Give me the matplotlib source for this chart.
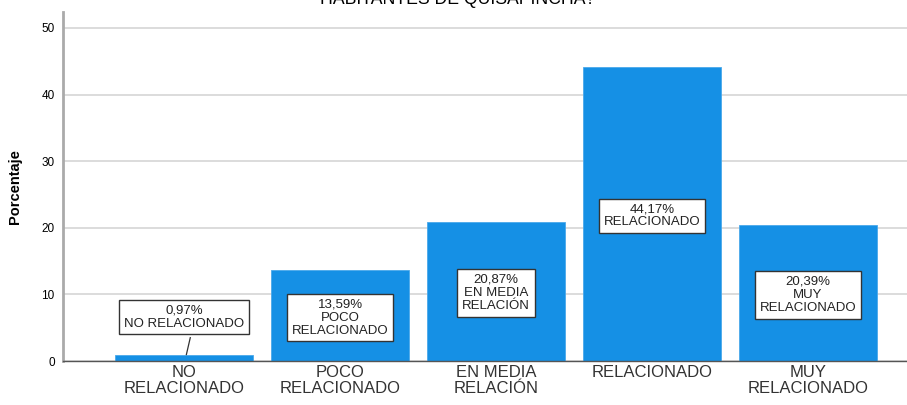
import matplotlib.pyplot as plt

plt.rcParams['font.family'] = ['Liberation Sans', 'DejaVu Sans']

categorias = ['NO\nRELACIONADO', 'POCO\nRELACIONADO', 'EN MEDIA\nRELACIÓN', 'RELACIONADO', 'MUY\nRELACIONADO']
porcentajes = [0.97, 13.59, 20.87, 44.17, 20.39]
etiquetas = ['0,97%\nNO RELACIONADO', '13,59%\nPOCO\nRELACIONADO', '20,87%\nEN MEDIA\nRELACIÓN',
             '44,17%\nRELACIONADO', '20,39%\nMUY\nRELACIONADO']
pos_etiquetas = [6.6, 6.5, 10.2, 21.8, 9.9]

fig = plt.figure(figsize=(9.07, 4.05), dpi=100)
ax = fig.add_axes([63 / 907, 1 - 361 / 405, 1 - 63 / 907, (361 - 12) / 405])

x = range(len(categorias))
ax.bar(x, porcentajes, width=0.89, color='#1590E5', edgecolor='#4aa8ea', linewidth=0.6, zorder=2)

# cuadros de etiqueta
for i, (txt, yl) in enumerate(zip(etiquetas, pos_etiquetas)):
    ax.text(i, yl, txt, ha='center', va='center', fontsize=9.5, linespacing=1.12, color='#222222',
            bbox=dict(boxstyle='square,pad=0.35', fc='white', ec='#333333', lw=1), zorder=4)
# linea guia de la primera barra
ax.plot([0.04, 0.015], [3.5, porcentajes[0]], color='#333333', lw=0.9, zorder=3)

ax.set_xlim(-0.776, 4.635)
ax.set_ylim(0, 52.4)
ax.set_yticks([0, 10, 20, 30, 40, 50])
ax.set_xticks(list(x))
ax.set_xticklabels(categorias, fontsize=12, linespacing=1.05, color='#333333')
ax.tick_params(axis='y', labelsize=8.5, length=0, pad=6)
ax.tick_params(axis='x', length=0, pad=3)
ax.grid(axis='y', color='#d9d9d9', lw=1.3, zorder=0)
ax.set_axisbelow(True)

for s in ['top', 'right']:
    ax.spines[s].set_visible(False)
ax.spines['left'].set_color('#aaaaaa')
ax.spines['left'].set_linewidth(2)
ax.spines['bottom'].set_color('#555555')
ax.spines['bottom'].set_linewidth(1)

ax.set_ylabel('Porcentaje', fontsize=10.5, fontweight='bold', labelpad=14)
fig.text(0.505, 1.0, 'HABITANTES DE QUISAPINCHA?', ha='center', va='center', fontsize=12.7)

fig.savefig('out.png', dpi=100)
